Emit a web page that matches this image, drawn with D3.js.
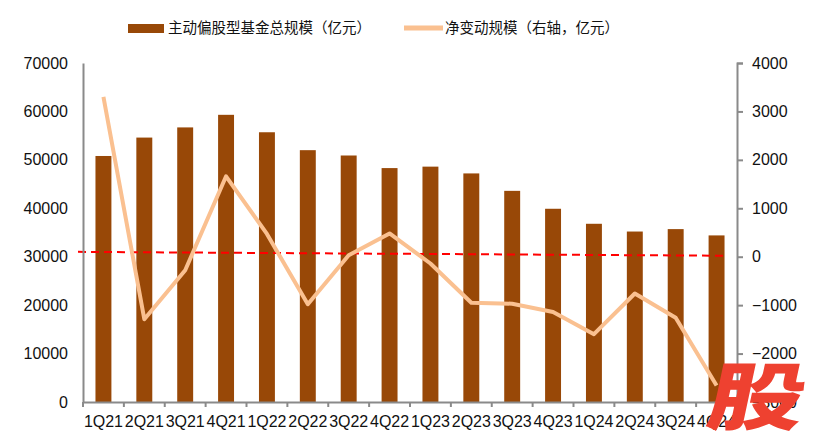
<!DOCTYPE html>
<html>
<head>
<meta charset="utf-8">
<script src="https://cdn.jsdelivr.net/npm/d3@7"></script>
<style>
  html, body { margin: 0; padding: 0; background: #fff; }
  svg { display: block; }
</style>
</head>
<body>
<svg id="chart" width="820" height="444"></svg>
<script>
const categories = ["1Q21","2Q21","3Q21","4Q21","1Q22","2Q22","3Q22","4Q22","1Q23","2Q23","3Q23","4Q23","1Q24","2Q24","3Q24","4Q24"];
const fundScale = [50800,54600,56700,59300,55700,52000,50900,48300,48600,47200,43600,39900,36800,35200,35700,34400];
const netChange = [3300,-1290,-280,1660,470,-980,30,480,-140,-950,-970,-1140,-1600,-760,-1260,-2660];
const leftTicks = [0,10000,20000,30000,40000,50000,60000,70000];
const rightTicks = [-3000,-2000,-1000,0,1000,2000,3000,4000];
const refLine = [100, 20]; // right-axis values at left and right ends of the dashed line
const legendLabels = ["主动偏股型基金总规模（亿元）", "净变动规模（右轴，亿元）"];

const barColor = "#984807";
const lineColor = "#FAC090";
const axisColor = "#8a8a8a";
const textColor = "#111";
const font = "'Liberation Sans', Arial, sans-serif";
const cjk = "'Noto Sans CJK SC', sans-serif";

const svg = d3.select("#chart");
const m = { left: 83, right: 737, top: 63, bottom: 402 };

const x = d3.scaleBand().domain(categories).range([m.left, m.right]).paddingInner(0.61).paddingOuter(0.305);
const yL = d3.scaleLinear().domain([0, 70000]).range([m.bottom, m.top]);
const yR = d3.scaleLinear().domain([-3000, 4000]).range([m.bottom, m.top]);

// bars
svg.append("g").selectAll("rect").data(categories).join("rect")
  .attr("x", d => x(d))
  .attr("width", x.bandwidth())
  .attr("y", (d, i) => yL(fundScale[i]))
  .attr("height", (d, i) => yL(0) - yL(fundScale[i]))
  .attr("fill", barColor);

// dashed reference line
svg.append("line")
  .attr("x1", m.left - 5).attr("x2", m.right - 10)
  .attr("y1", yR(refLine[0])).attr("y2", yR(refLine[1]))
  .attr("stroke", "#ff0000").attr("stroke-width", 2)
  .attr("stroke-dasharray", "8,5");

// line
const line = d3.line()
  .x((d, i) => x(categories[i]) + x.bandwidth() / 2)
  .y(d => yR(d));
svg.append("path").datum(netChange)
  .attr("d", line)
  .attr("fill", "none")
  .attr("stroke", lineColor)
  .attr("stroke-width", 4)
  .attr("stroke-linejoin", "round");

// left axis
const gL = svg.append("g").attr("transform", `translate(${m.left},0)`)
  .call(d3.axisLeft(yL).tickValues(leftTicks).tickSize(0).tickPadding(15).tickFormat(d3.format("d")));
gL.select(".domain").attr("stroke", axisColor).attr("stroke-width", 2);
gL.selectAll("text").attr("font-family", font).attr("font-size", 16).attr("fill", textColor);

// right axis
const gR = svg.append("g").attr("transform", `translate(${m.right},0)`)
  .call(d3.axisRight(yR).tickValues(rightTicks).tickSize(6).tickPadding(9).tickFormat(d3.format("d")));
gR.select(".domain").attr("stroke", axisColor).attr("stroke-width", 2);
gR.selectAll(".tick line").attr("stroke", axisColor).attr("stroke-width", 2);
gR.selectAll("text").attr("font-family", font).attr("font-size", 16).attr("fill", textColor);

// x axis
const gX = svg.append("g").attr("transform", `translate(0,${m.bottom})`)
  .call(d3.axisBottom(x).tickSize(0).tickPadding(14));
gX.select(".domain").attr("stroke", axisColor).attr("stroke-width", 2);
gX.selectAll("text").attr("font-family", font).attr("font-size", 16).attr("fill", textColor);
const step = x.step();
const bounds = categories.map(c => x(c) - (step - x.bandwidth()) / 2).concat([m.right]);
gX.append("g").selectAll("line").data(bounds).join("line")
  .attr("x1", d => d).attr("x2", d => d)
  .attr("y1", 0).attr("y2", 5)
  .attr("stroke", axisColor).attr("stroke-width", 2);

// legend
const lg = svg.append("g");
lg.append("rect").attr("x", 128).attr("y", 24).attr("width", 36).attr("height", 9).attr("fill", barColor);
lg.append("text").attr("x", 168).attr("y", 28).attr("dy", "0.35em")
  .attr("font-family", cjk).attr("font-size", 14.5).attr("fill", textColor).text(legendLabels[0]);
lg.append("line").attr("x1", 404).attr("x2", 443).attr("y1", 28).attr("y2", 28)
  .attr("stroke", lineColor).attr("stroke-width", 5);
lg.append("text").attr("x", 445).attr("y", 28).attr("dy", "0.35em")
  .attr("font-family", cjk).attr("font-size", 14.5).attr("fill", textColor).text(legendLabels[1]);

// watermark
svg.append("text")
  .attr("transform", "translate(752,424) skewX(-12) scale(1.2,0.92)")
  .attr("text-anchor", "middle")
  .attr("font-family", cjk).attr("font-weight", 900).attr("font-size", 80)
  .attr("fill", "#EE4130").text("股");
</script>
</body>
</html>
